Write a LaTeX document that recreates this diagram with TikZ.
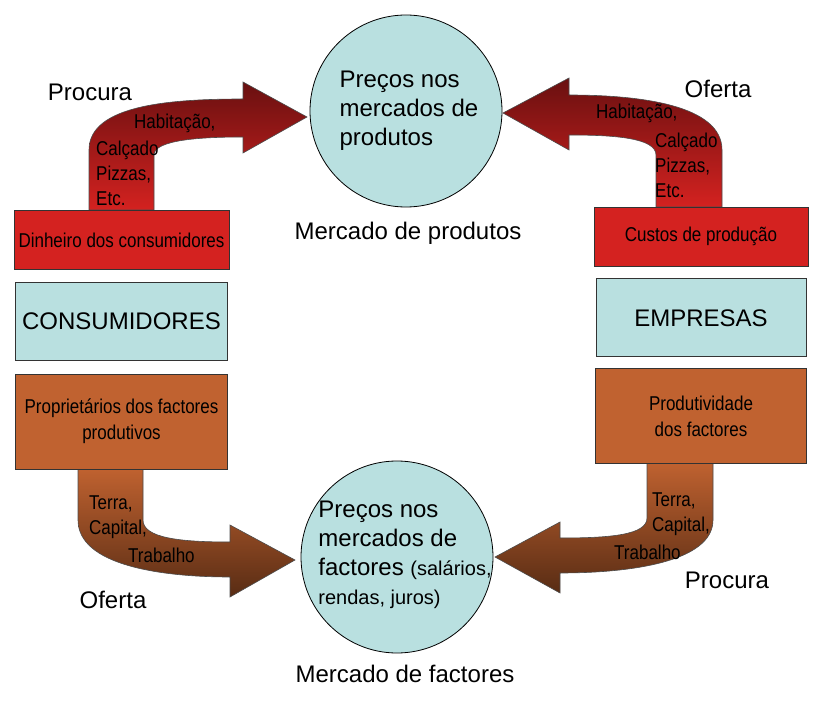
\documentclass[tikz,border=0pt]{standalone}
\usepackage{fontspec}
\setmainfont{Liberation Sans}
\newfontfamily\narrowfont[FakeStretch=0.85]{Liberation Sans}
\usepackage{xcolor}
\usetikzlibrary{positioning}

\definecolor{boxred}{RGB}{212,34,32}
\definecolor{darkred}{RGB}{105,16,16}
\definecolor{boxorange}{RGB}{192,98,48}
\definecolor{darkbrown}{RGB}{88,44,20}
\definecolor{paleblue}{RGB}{185,224,224}

\tikzset{
  bigtxt/.style={font=\fontsize{24}{29}\selectfont, inner sep=0pt},
  narrowtxt/.style={font=\narrowfont\fontsize{20}{25}\selectfont, inner sep=0pt, align=left},
  box/.style={draw=black!80, line width=0.8pt, minimum width=212pt, inner sep=0pt, align=center},
  redbox/.style={box, fill=boxred, minimum height=59pt, font=\narrowfont\fontsize{20}{26}\selectfont},
  orangebox/.style={box, fill=boxorange, minimum height=95pt, font=\narrowfont\fontsize{20}{26}\selectfont},
  cyanbox/.style={box, fill=paleblue, minimum height=78pt, font=\fontsize{24}{29}\selectfont},
  market/.style={circle, draw=black, line width=0.8pt, fill=paleblue, minimum size=192pt, inner sep=0pt},
  flow/.style={draw=black!70, line width=0.6pt}
}

\begin{document}
\begin{tikzpicture}[x=1pt, y=-1pt]
  \useasboundingbox (0,0) rectangle (825,703);

  % block arrows
  \path[flow, top color=darkred, bottom color=boxred]
    (89,210) -- (89,150) .. controls (89,105) and (170,99) .. (243,99)
    -- (243,82) -- (307,117) -- (243,153) -- (243,137)
    .. controls (200,137) and (154,140) .. (154,155) -- (154,210) -- cycle;
  \path[flow, top color=darkred, bottom color=boxred]
    (722,207) -- (722,150) .. controls (722,105) and (640,95) .. (569,95)
    -- (569,78) -- (503,113) -- (569,150) -- (569,135)
    .. controls (615,135) and (656,138) .. (656,155) -- (656,207) -- cycle;
  \path[flow, top color=boxorange, bottom color=darkbrown]
    (78,468) -- (78,520) .. controls (78,565) and (160,577) .. (230,577)
    -- (230,597) -- (295,560) -- (230,525) -- (230,542)
    .. controls (180,542) and (143,538) .. (143,520) -- (143,468) -- cycle;
  \path[flow, top color=boxorange, bottom color=darkbrown]
    (713,462) -- (713,520) .. controls (713,562) and (630,573) .. (560,573)
    -- (560,593) -- (495,557) -- (560,522) -- (560,538)
    .. controls (610,538) and (647,535) .. (647,518) -- (647,462) -- cycle;

  % consumers
  \node[redbox, minimum width=215pt] (dinheiro) at (121.5,240) {Dinheiro dos consumidores};
  \node[cyanbox, below=12pt of dinheiro] (consum) {CONSUMIDORES};
  \node[orangebox, below=13pt of consum] (propriet) {Proprietários dos factores\\produtivos};

  % firms
  \node[redbox, minimum width=214pt] (custos) at (701,236.5) {Custos de produção};
  \node[cyanbox, minimum width=210pt, below=12pt of custos] (empresas) {EMPRESAS};
  \node[orangebox, minimum width=211pt, below=11pt of empresas] (produt) {Produtividade\\dos factores};

  % markets
  \node[market] (prodmkt) at (406,111) {};
  \node[bigtxt, align=left] (prodtxt) at (409,111) {Preços nos\\mercados de\\produtos};
  \node[bigtxt] (prodlbl) at (408,233) {Mercado de produtos};
  \node[market] (factmkt) at (397,557) {};
  \node[bigtxt, align=left] (facttxt) at (405,555)
    {Preços nos\\mercados de\\factores {\fontsize{20}{28}\selectfont(salários,}\\{\fontsize{20}{28}\selectfont rendas, juros)}};
  \node[bigtxt] (factlbl) at (405,674) {Mercado de factores};

  % flow labels
  \node[bigtxt] (procura1) at (90,92) {Procura};
  \node[bigtxt] (oferta1) at (718,89) {Oferta};
  \node[bigtxt] (oferta2) at (113,600) {Oferta};
  \node[bigtxt] (procura2) at (727,580) {Procura};

  \node[narrowtxt, anchor=west] (habit1) at (134,123) {Habitação,};
  \node[narrowtxt, anchor=west] (bens1) at (96,173) {Calçado\\Pizzas,\\Etc.};
  \node[narrowtxt, anchor=west] (habit2) at (596,113) {Habitação,};
  \node[narrowtxt, anchor=west] (bens2) at (655,165) {Calçado\\Pizzas,\\Etc.};
  \node[narrowtxt, anchor=west] (terra1) at (89,517.5) {Terra,\\Capital,};
  \node[narrowtxt, anchor=west] (trab1) at (128,555) {Trabalho};
  \node[narrowtxt, anchor=west] (terra2) at (652,514.5) {Terra,\\Capital,};
  \node[narrowtxt, anchor=west] (trab2) at (614,552) {Trabalho};
\end{tikzpicture}
\end{document}
